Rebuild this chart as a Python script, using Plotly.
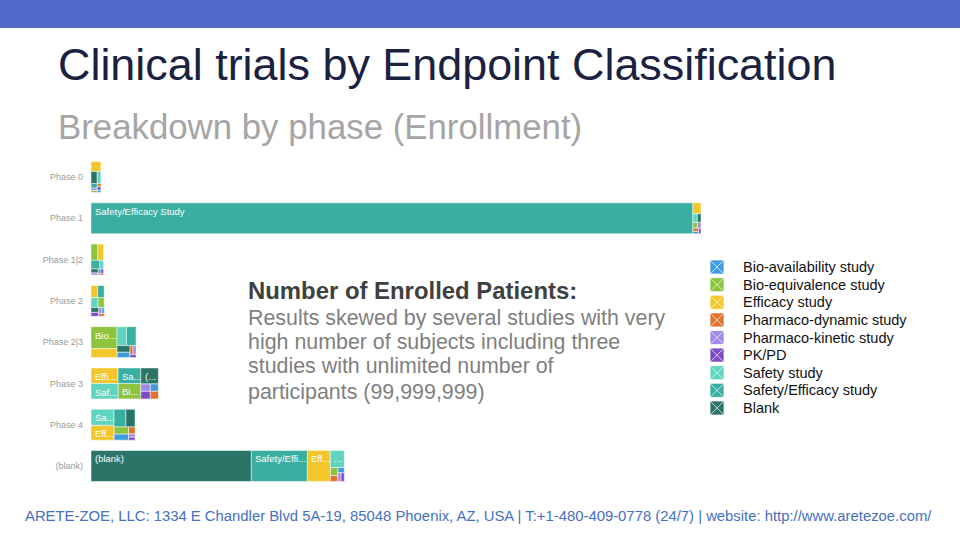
import plotly.graph_objects as go

# Enrollment by trial phase and endpoint classification
phases = ["Phase 0", "Phase 1", "Phase 1|2", "Phase 2", "Phase 2|3", "Phase 3", "Phase 4", "(blank)"]

categories = ["Bio-availability study", "Bio-equivalence study", "Efficacy study",
              "Pharmaco-dynamic study", "Pharmaco-kinetic study", "PK/PD",
              "Safety study", "Safety/Efficacy study", "Blank"]
tile_names = ["Bio-availability Study", "Bio-equivalence Study", "Efficacy Study",
              "Pharmaco-dynamic Study", "Pharmaco-kinetic Study", "PK/PD",
              "Safety Study", "Safety/Efficacy Study", "(blank)"]
colors = ["#3d9be0", "#8cc43f", "#f3c72b", "#df722c", "#a08ae6",
          "#7c4cc4", "#5fd4c1", "#3aaea1", "#2a7468"]

# values per phase (same order as phases)
bio_availability = [150000, 250000, 200000, 250000, 1150000, 1000000, 1450000, 550000]
bio_equivalence = [200000, 450000, 1800000, 1000000, 9250000, 5650000, 1700000, 1000000]
efficacy = [1600000, 1450000, 1500000, 1300000, 3750000, 6800000, 5550000, 11500000]
pharmaco_dynamic = [200000, 300000, 150000, 250000, 450000, 1000000, 750000, 700000]
pharmaco_kinetic = [250000, 350000, 250000, 300000, 450000, 1150000, 350000, 450000]
pk_pd = [200000, 200000, 200000, 500000, 300000, 1150000, 300000, 450000]
safety = [750000, 650000, 550000, 1100000, 2900000, 6700000, 5950000, 3850000]
safety_efficacy = [450000, 300500000, 1200000, 1300000, 2900000, 5700000, 3350000, 28000000]
blank = [1150000, 500000, 450000, 600000, 1350000, 4500000, 2600000, 80000000]

series = [bio_availability, bio_equivalence, efficacy, pharmaco_dynamic, pharmaco_kinetic,
          pk_pd, safety, safety_efficacy, blank]

W, H = 960, 540
# plot area (pixels) used to keep the treemap tiles squarish
X_LEFT, X_RIGHT = 91, 701
Y_TOP, Y_BOTTOM = 156.4, 486.6
BAR_FRAC = 0.75
PHI = (1 + 5 ** 0.5) / 2

totals = [sum(s[i] for s in series) for i in range(len(phases))]
x_max = max(totals)
kx = (X_RIGHT - X_LEFT) / x_max
ky = (Y_BOTTOM - Y_TOP) / len(phases)
band_px = BAR_FRAC * ky


def squarify(items, x0, y0, x1, y1, ratio=PHI):
    # d3-style squarified treemap (golden ratio target)
    rects = []
    items = [it for it in items if it[1] > 0]
    value = sum(v for _, v in items)
    i0, n = 0, len(items)
    while i0 < n:
        dx, dy = x1 - x0, y1 - y0
        i1 = i0 + 1
        s = items[i0][1]
        mn = mx = s
        alpha = max(dy / dx, dx / dy) / (value * ratio)
        beta = s * s * alpha
        min_ratio = max(mx / beta, beta / mn)
        while i1 < n:
            v = items[i1][1]
            s2 = s + v
            mn2, mx2 = min(mn, v), max(mx, v)
            beta = s2 * s2 * alpha
            new_ratio = max(mx2 / beta, beta / mn2)
            if new_ratio > min_ratio:
                break
            s, mn, mx, min_ratio = s2, mn2, mx2, new_ratio
            i1 += 1
        row = items[i0:i1]
        if dx < dy:
            # horizontal row along the top
            yb = y0 + dy * s / value
            xx = x0
            for idx, v in row:
                w = dx * v / s
                rects.append((idx, xx, y0, w, yb - y0))
                xx += w
            y0 = yb
        else:
            # vertical column on the left
            xb = x0 + dx * s / value
            yy = y0
            for idx, v in row:
                h = dy * v / s
                rects.append((idx, x0, yy, xb - x0, h))
                yy += h
            x0 = xb
        value -= s
        i0 = i1
    return rects


def text_w(s, size):
    w = 0
    for c in s:
        if c in "il.,:;|'":
            w += 0.24
        elif c in "jtfr!/()[] -":
            w += 0.31
        elif c in "mwMW":
            w += 0.85
        elif c.isupper():
            w += 0.68
        else:
            w += 0.55
    return w * size


LABEL_SIZE = 9.5


def fit_label(name, wpx, hpx):
    if wpx < 12 or hpx < 13:
        return None
    avail = wpx - 3
    if text_w(name, LABEL_SIZE) <= avail:
        return name
    for n in range(len(name) - 1, 0, -1):
        cand = name[:n].rstrip() + "..."
        if text_w(cand, LABEL_SIZE) <= avail:
            return cand
    return "..." if text_w("...", LABEL_SIZE) <= avail else None


tiles = {k: dict(base=[], x=[], y=[], width=[]) for k in range(len(categories))}
labels = []
for r, ph in enumerate(phases):
    vals = [(k, series[k][r]) for k in range(len(series))]
    vals.sort(key=lambda t: -t[1])
    for k, x0, y0, wpx, hpx in squarify(vals, 0, 0, totals[r] * kx, band_px):
        yc = r - BAR_FRAC / 2 + (y0 + hpx / 2) / ky
        tiles[k]["base"].append(x0 / kx)
        tiles[k]["x"].append(wpx / kx)
        tiles[k]["y"].append(yc)
        tiles[k]["width"].append(hpx / ky)
        lab = fit_label(tile_names[k], wpx, hpx)
        if lab:
            labels.append(dict(x=x0 / kx, y=r - BAR_FRAC / 2 + y0 / ky, text=lab))

fig = go.Figure()
for k, cat in enumerate(categories):
    t = tiles[k]
    fig.add_trace(go.Bar(
        orientation="h", base=t["base"], x=t["x"], y=t["y"], width=t["width"],
        marker=dict(color=colors[k], line=dict(color="white", width=0.5)),
        name=cat, hoverinfo="skip", showlegend=False,
    ))

# custom legend on its own small axis
fig.add_trace(go.Scatter(
    x=[0] * len(categories), y=list(range(len(categories))), mode="markers",
    marker=dict(symbol="square-x", size=14, color=colors,
                line=dict(color="rgba(255,255,255,0.7)", width=1)),
    xaxis="x2", yaxis="y2", hoverinfo="skip", showlegend=False,
))

annotations = []
for lab in labels:
    annotations.append(dict(
        x=lab["x"], y=lab["y"], xref="x", yref="y", text=lab["text"], showarrow=False,
        xanchor="left", yanchor="top", xshift=2, yshift=-1,
        font=dict(size=LABEL_SIZE, color="white", family="Liberation Sans, Arial"),
    ))
for i, cat in enumerate(categories):
    annotations.append(dict(
        x=0, y=i, xref="x2", yref="y2", text=cat, showarrow=False,
        xanchor="left", yanchor="middle", xshift=24,
        font=dict(size=14.5, color="#111111", family="Liberation Sans, Arial"),
    ))


def pt(x, y):
    return x / W, 1 - y / H


def text_ann(x, y, text, size, color, anchor="left", bold=False):
    px_, py_ = pt(x, y)
    return dict(x=px_, y=py_, xref="paper", yref="paper", text=("<b>%s</b>" % text) if bold else text,
                showarrow=False, xanchor=anchor, yanchor="middle",
                font=dict(size=size, color=color, family="Liberation Sans, Arial"))


annotations += [
    text_ann(56, 65, "Clinical trials by Endpoint Classification", 44.9, "#1b2141"),
    text_ann(56, 127, "Breakdown by phase (Enrollment)", 34.8, "#a5a5a5"),
    text_ann(246, 290, "Number of Enrolled Patients:", 23.9, "#404040", bold=True),
    text_ann(246, 318, "Results skewed by several studies with very", 21.4, "#7f7f7f"),
    text_ann(246, 342, "high number of subjects including three", 21.4, "#7f7f7f"),
    text_ann(246, 366, "studies with unlimited number of", 21.4, "#7f7f7f"),
    text_ann(246, 392, "participants (99,999,999)", 21.4, "#7f7f7f"),
    text_ann(478, 516, "ARETE-ZOE, LLC: 1334 E Chandler Blvd 5A-19, 85048 Phoenix, AZ, USA | "
             "T:+1-480-409-0778 (24/7) | website: http://www.aretezoe.com/", 14.85, "#4670c0",
             anchor="center"),
]

fig.update_layout(
    width=W, height=H, margin=dict(l=0, r=0, t=0, b=0),
    paper_bgcolor="white", plot_bgcolor="white",
    barmode="overlay", showlegend=False, hovermode=False,
    xaxis=dict(domain=[X_LEFT / W, X_RIGHT / W], range=[0, x_max], visible=False, fixedrange=True),
    yaxis=dict(domain=[1 - Y_BOTTOM / H, 1 - Y_TOP / H], range=[len(phases) - 0.5, -0.5],
               tickvals=list(range(len(phases))), ticktext=phases, showgrid=False,
               zeroline=False, showline=False, ticks="", ticklabelstandoff=7,
               tickfont=dict(size=9, color="#9a9a9a", family="Liberation Sans, Arial")),
    xaxis2=dict(domain=[707 / W, 727 / W], range=[-1, 1], visible=False, anchor="y2"),
    yaxis2=dict(domain=[1 - 416.8 / H, 1 - 258.2 / H], range=[len(categories) - 0.5, -0.5],
                visible=False, anchor="x2"),
    shapes=[dict(type="rect", xref="paper", yref="paper", x0=0, x1=1, y0=1 - 28 / H, y1=1,
                 fillcolor="#5068c8", line=dict(width=0), layer="below")],
    annotations=annotations,
)

# drop the default page margin so the 960x540 figure fills the window
fig.write_html("out.html", config={"displayModeBar": False},
               post_script="document.body.style.margin='0';document.body.style.overflow='hidden';")
